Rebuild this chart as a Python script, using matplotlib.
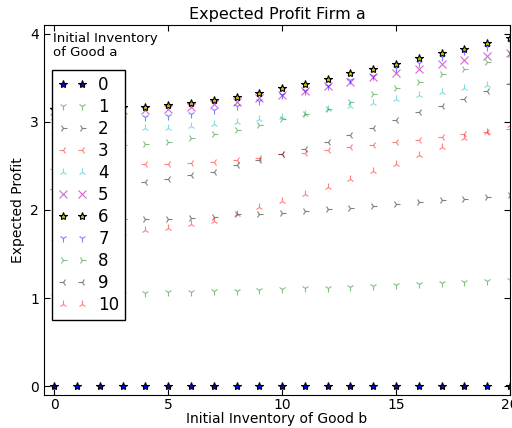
import numpy as np
import matplotlib
matplotlib.use("Agg")
import matplotlib.pyplot as plt

# initial inventory of good b (x axis)
inv_b = list(range(21))

# expected profit per initial inventory of good a (legend entries)
profit_a0 = [0.0] * 21
profit_a1 = [1.02, 1.03, 1.04, 1.05, 1.06, 1.07, 1.07, 1.08, 1.08, 1.09, 1.10,
             1.11, 1.12, 1.13, 1.14, 1.15, 1.16, 1.17, 1.18, 1.19, 1.20]
profit_a2 = [1.86, 1.88, 1.89, 1.90, 1.90, 1.90, 1.91, 1.92, 1.95, 1.95, 1.97,
             1.99, 2.01, 2.02, 2.05, 2.07, 2.09, 2.11, 2.13, 2.15, 2.17]
profit_a3 = [2.46, 2.48, 2.49, 2.50, 2.52, 2.52, 2.53, 2.55, 2.57, 2.59, 2.63,
             2.65, 2.68, 2.71, 2.74, 2.77, 2.80, 2.83, 2.86, 2.89, 2.92]
profit_a4 = [2.88, 2.89, 2.90, 2.91, 2.93, 2.93, 2.95, 2.98, 3.00, 3.03, 3.06,
             3.09, 3.15, 3.18, 3.22, 3.26, 3.30, 3.34, 3.38, 3.42, 3.45]
profit_a5 = [3.12, 3.13, 3.13, 3.14, 3.14, 3.15, 3.17, 3.20, 3.23, 3.27, 3.31,
             3.35, 3.41, 3.45, 3.51, 3.56, 3.60, 3.66, 3.70, 3.75, 3.78]
profit_a6 = [3.15, 3.16, 3.16, 3.17, 3.17, 3.19, 3.22, 3.25, 3.28, 3.33, 3.38,
             3.43, 3.49, 3.55, 3.60, 3.66, 3.72, 3.78, 3.83, 3.89, 3.95]
profit_a7 = [3.01, 3.02, 3.03, 3.03, 3.05, 3.07, 3.09, 3.13, 3.18, 3.24, 3.30,
             3.35, 3.41, 3.47, 3.52, 3.61, 3.67, 3.74, 3.80, 3.85, 3.91]
profit_a8 = [2.68, 2.70, 2.72, 2.74, 2.75, 2.77, 2.82, 2.86, 2.91, 2.96, 3.03,
             3.09, 3.15, 3.23, 3.32, 3.39, 3.45, 3.54, 3.60, 3.68, 3.77]
profit_a9 = [2.24, 2.26, 2.28, 2.30, 2.32, 2.35, 2.40, 2.43, 2.51, 2.57, 2.63,
             2.69, 2.77, 2.85, 2.93, 3.02, 3.11, 3.18, 3.26, 3.35, 3.43]
profit_a10 = [1.68, 1.70, 1.72, 1.74, 1.77, 1.80, 1.84, 1.88, 1.95, 2.03, 2.10,
              2.18, 2.26, 2.35, 2.44, 2.52, 2.62, 2.72, 2.82, 2.88, 2.97]

series = [profit_a0, profit_a1, profit_a2, profit_a3, profit_a4, profit_a5,
          profit_a6, profit_a7, profit_a8, profit_a9, profit_a10]
labels = [str(i) for i in range(11)]

# marker / colour per series (old matplotlib look)
styles = [
    dict(marker='*', color='b', mec='k', alpha=1.0),
    dict(marker='1', color='g', alpha=0.5),
    dict(marker='4', color='k', alpha=0.5),
    dict(marker='3', color='r', alpha=0.5),
    dict(marker='2', color='c', alpha=0.5),
    dict(marker='x', color='m', alpha=0.6),
    dict(marker='*', color='y', mec='k', alpha=1.0),
    dict(marker='1', color='b', alpha=0.5),
    dict(marker='4', color='g', alpha=0.5),
    dict(marker='3', color='k', alpha=0.5),
    dict(marker='2', color='r', alpha=0.5),
]

fig = plt.figure(figsize=(5.12, 4.28), dpi=100)
ax = fig.add_axes([44 / 512, 1 - 395 / 428, (510 - 44) / 512, (395 - 25) / 428])

for vals, lab, st in zip(series, labels, styles):
    ax.plot(inv_b, vals, linestyle='none', markersize=6, mew=0.8, label=lab, **st)

ax.set_xlim(-0.45, 20)
ax.set_ylim(-0.1, 4.1)
ax.set_xticks([0, 5, 10, 15, 20])
ax.set_yticks([0, 1, 2, 3, 4])
ax.tick_params(direction='in', top=True, right=True, length=4, labelsize=10)
ax.tick_params(axis='x', pad=2)

ax.set_title("Expected Profit Firm a", fontsize=11.5, pad=4)
ax.set_xlabel("Initial Inventory of Good b", fontsize=10, labelpad=0)
ax.set_ylabel("Expected Profit", fontsize=10)

leg = ax.legend(loc='upper left', bbox_to_anchor=(52 / 512, 1 - 70 / 428),
                bbox_transform=fig.transFigure, numpoints=2, fontsize=12,
                handlelength=1.72, handletextpad=0.7, labelspacing=0.24,
                borderaxespad=0, fancybox=False, framealpha=1, edgecolor='k',
                borderpad=0.35)
leg.get_frame().set_linewidth(1.0)

ax.text(0.02, 0.98, "Initial Inventory\nof Good a", transform=ax.transAxes,
        ha='left', va='top', fontsize=9.5, linespacing=1.05)

fig.savefig("out.png", dpi=100, facecolor='white')
